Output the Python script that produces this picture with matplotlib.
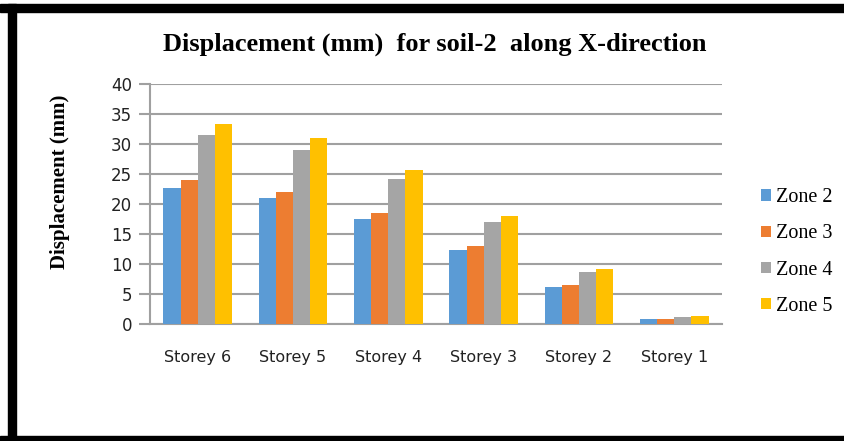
import matplotlib
matplotlib.use("Agg")
import matplotlib.pyplot as plt
import numpy as np
from matplotlib.patches import Rectangle

categories = ["Storey 6", "Storey 5", "Storey 4", "Storey 3", "Storey 2", "Storey 1"]
zone2 = [22.6, 21.0, 17.5, 12.4, 6.2, 0.9]
zone3 = [24.0, 22.0, 18.5, 13.0, 6.5, 0.9]
zone4 = [31.5, 29.0, 24.2, 17.0, 8.7, 1.2]
zone5 = [33.4, 31.0, 25.6, 18.0, 9.2, 1.4]
series_names = ["Zone 2", "Zone 3", "Zone 4", "Zone 5"]
yticks = [0, 5, 10, 15, 20, 25, 30, 35, 40]

colors = ["#5B9BD5", "#ED7D31", "#A5A5A5", "#FFC000"]
W, H = 845, 441
fig = plt.figure(figsize=(W / 100, H / 100), dpi=100)

# black frame (top, left, bottom)
fig.patches.append(Rectangle((0, 1 - 12 / H), 1, 8 / H, transform=fig.transFigure, color="black", zorder=0))
fig.patches.append(Rectangle((8 / W, 0), 8 / W, 1 - 4 / H, transform=fig.transFigure, color="black", zorder=0))
fig.patches.append(Rectangle((0, 0), 1, 5 / H, transform=fig.transFigure, color="black", zorder=0))

ax = fig.add_axes([150 / W, (H - 324) / H, 572 / W, 240 / H])
x = np.arange(len(categories))
bw = 0.18
data = [zone2, zone3, zone4, zone5]
for i, (vals, name, c) in enumerate(zip(data, series_names, colors)):
    ax.bar(x + (i - 1.5) * bw, vals, bw, color=c, label=name, zorder=3)

ax.set_xlim(-0.5, len(categories) - 0.5)
ax.set_ylim(0, 40)
ax.set_yticks(yticks)
ax.set_yticklabels([str(t) for t in yticks], fontsize=12, color="#222222")
ax.set_xticks(x)
ax.set_xticklabels(categories, fontsize=11.5, color="#222222")
ax.yaxis.grid(True, color="#A0A0A0", linewidth=1.5, zorder=0)
for s in ["top", "right"]:
    ax.spines[s].set_visible(False)
ax.spines["left"].set_color("#A0A0A0")
ax.spines["left"].set_linewidth(1.5)
ax.spines["bottom"].set_color("#A0A0A0")
ax.spines["bottom"].set_linewidth(1.5)
ax.tick_params(axis="y", length=8, width=1.5, color="#A0A0A0", pad=5)
ax.tick_params(axis="x", length=0, pad=19)

fig.text(60 / W, 1 - 182 / H, "Displacement (mm)", rotation=90, ha="center", va="center",
         family="Liberation Serif", fontweight="bold", fontsize=15)
fig.text(435 / W, 1 - 44 / H, "Displacement (mm)  for soil-2  along X-direction",
         ha="center", va="center", family="Liberation Serif", fontweight="bold", fontsize=19)

leg = fig.legend(loc="center left", bbox_to_anchor=(743 / W, (H - 252) / H), frameon=False,
                 prop={"family": "Liberation Serif", "size": 14.5}, handlelength=0.5, handleheight=0.5,
                 handletextpad=0.25, labelspacing=0.85)

fig.savefig("out.png", dpi=100)
